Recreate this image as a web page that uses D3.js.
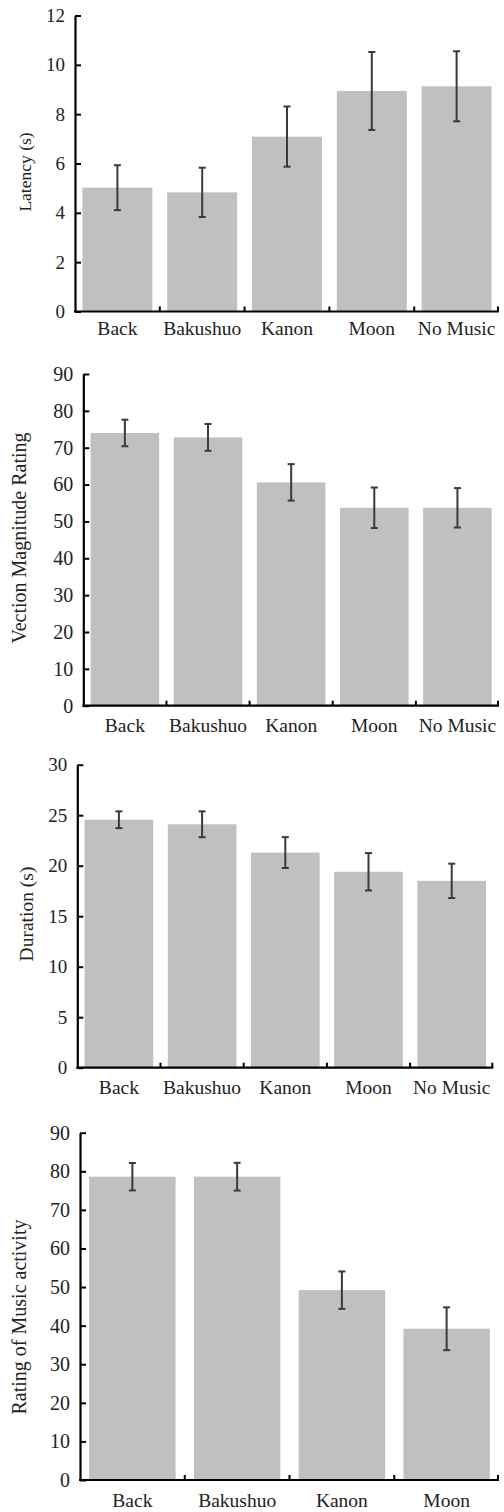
<!DOCTYPE html>
<html>
<head>
<meta charset="utf-8">
<script src="https://cdn.jsdelivr.net/npm/d3@7"></script>
<style>
  body { margin: 0; background: #fff; }
  text { font-family: "Liberation Serif", "Times New Roman", serif; fill: #222; }
</style>
</head>
<body>
<div id="chart"></div>
<script>
const categories = ['Back', 'Bakushuo', 'Kanon', 'Moon', 'No Music'];
const musicCategories = ['Back', 'Bakushuo', 'Kanon', 'Moon'];

const latencyMean = [5.02, 4.83, 7.09, 8.94, 9.13];
const latencyErr = [0.91, 1.0, 1.22, 1.58, 1.42];
const latencyTicks = [0, 2, 4, 6, 8, 10, 12];

const magnitudeMean = [74.0, 72.8, 60.6, 53.7, 53.7];
const magnitudeErr = [3.6, 3.65, 4.95, 5.5, 5.35];
const magnitudeTicks = [0, 10, 20, 30, 40, 50, 60, 70, 80, 90];

const durationMean = [24.55, 24.1, 21.3, 19.4, 18.5];
const durationErr = [0.83, 1.28, 1.53, 1.85, 1.7];
const durationTicks = [0, 5, 10, 15, 20, 25, 30];

const activityMean = [78.6, 78.6, 49.2, 39.2];
const activityErr = [3.55, 3.6, 4.85, 5.55];
const activityTicks = [0, 10, 20, 30, 40, 50, 60, 70, 80, 90];

const width = 504;
const height = 1512;

const svg = d3.select('#chart')
  .append('svg')
  .attr('width', width)
  .attr('height', height);

// one entry per stacked panel: data plus where it sits on the page
const panels = [
  { cats: categories, mean: latencyMean, err: latencyErr, ticks: latencyTicks,
    title: 'Latency (s)', left: 75, right: 499, top: 15.5, bottom: 311.5,
    titleX: 25, titleY: 172, titleSize: 17.5, tickSize: 19, labelY: 335 },
  { cats: categories, mean: magnitudeMean, err: magnitudeErr, ticks: magnitudeTicks,
    title: 'Vection Magnitude Rating', left: 83.3, right: 499, top: 374, bottom: 705.7,
    titleX: 20, titleY: 538, titleSize: 20, tickSize: 20, labelY: 732 },
  { cats: categories, mean: durationMean, err: durationErr, ticks: durationTicks,
    title: 'Duration (s)', left: 77.3, right: 493.3, top: 764.7, bottom: 1067.7,
    titleX: 27, titleY: 914, titleSize: 19.5, tickSize: 19, labelY: 1094 },
  { cats: musicCategories, mean: activityMean, err: activityErr, ticks: activityTicks,
    title: 'Rating of Music activity', left: 80, right: 499, top: 1132.7, bottom: 1480,
    titleX: 20, titleY: 1317, titleSize: 20, tickSize: 20, labelY: 1507 }
];

panels.forEach(p => {
  const g = svg.append('g');

  const x = d3.scaleBand()
    .domain(p.cats)
    .range([p.left, p.right])
    .paddingInner(0.175)
    .paddingOuter(0.0875);

  const y = d3.scaleLinear()
    .domain([0, d3.max(p.ticks)])
    .range([p.bottom, p.top]);

  const rows = p.cats.map((c, i) => ({ cat: c, mean: p.mean[i], err: p.err[i] }));

  g.append('g')
    .attr('fill', '#c0c0c0')
    .selectAll('rect')
    .data(rows)
    .join('rect')
      .attr('x', d => x(d.cat))
      .attr('y', d => y(d.mean))
      .attr('width', x.bandwidth())
      .attr('height', d => y(0) - y(d.mean));

  // error bars
  const eb = g.append('g')
    .attr('stroke', '#3a3a3a')
    .attr('stroke-width', 2)
    .selectAll('g')
    .data(rows)
    .join('g')
      .attr('transform', d => `translate(${x(d.cat) + x.bandwidth() / 2},0)`);
  eb.append('line')
    .attr('y1', d => y(d.mean + d.err))
    .attr('y2', d => y(d.mean - d.err));
  eb.append('line')
    .attr('x1', -3.5).attr('x2', 3.5)
    .attr('y1', d => y(d.mean + d.err)).attr('y2', d => y(d.mean + d.err));
  eb.append('line')
    .attr('x1', -3.5).attr('x2', 3.5)
    .attr('y1', d => y(d.mean - d.err)).attr('y2', d => y(d.mean - d.err));

  // y axis, ticks pointing inward
  const yAxis = g.append('g')
    .attr('transform', `translate(${p.left},0)`)
    .call(d3.axisLeft(y).tickValues(p.ticks).tickSizeInner(-6).tickSizeOuter(0).tickPadding(10))
    .attr('font-size', p.tickSize)
    .attr('font-family', null);
  yAxis.select('.domain').attr('stroke', '#000').attr('stroke-width', 2.2);
  yAxis.selectAll('.tick line').attr('stroke', '#000').attr('stroke-width', 2);
  yAxis.selectAll('.tick text').attr('fill', '#222');

  // x axis: labels from the band scale, tick marks on the band boundaries
  const xAxis = g.append('g')
    .attr('transform', `translate(0,${p.bottom})`)
    .call(d3.axisBottom(x).tickSize(0))
    .attr('font-size', 19.5)
    .attr('font-family', null);
  xAxis.select('.domain').remove();
  xAxis.selectAll('.tick text')
    .attr('y', p.labelY - p.bottom)
    .attr('dy', null)
    .attr('fill', '#222');

  const step = x.step();
  const bounds = p.cats.map((c, i) => p.left + (i + 1) * step);
  g.append('line')
    .attr('x1', p.left - 1).attr('x2', p.right)
    .attr('y1', p.bottom).attr('y2', p.bottom)
    .attr('stroke', '#000').attr('stroke-width', 2.2);
  g.append('g')
    .attr('stroke', '#000')
    .attr('stroke-width', 2)
    .selectAll('line')
    .data(bounds)
    .join('line')
      .attr('x1', d => Math.min(d, p.right - 1)).attr('x2', d => Math.min(d, p.right - 1))
      .attr('y1', p.bottom).attr('y2', p.bottom - 5);

  g.append('text')
    .attr('transform', `translate(${p.titleX + p.titleSize * 0.32},${p.titleY}) rotate(-90)`)
    .attr('text-anchor', 'middle')
    .attr('font-size', p.titleSize)
    .text(p.title);
});
</script>
</body>
</html>
